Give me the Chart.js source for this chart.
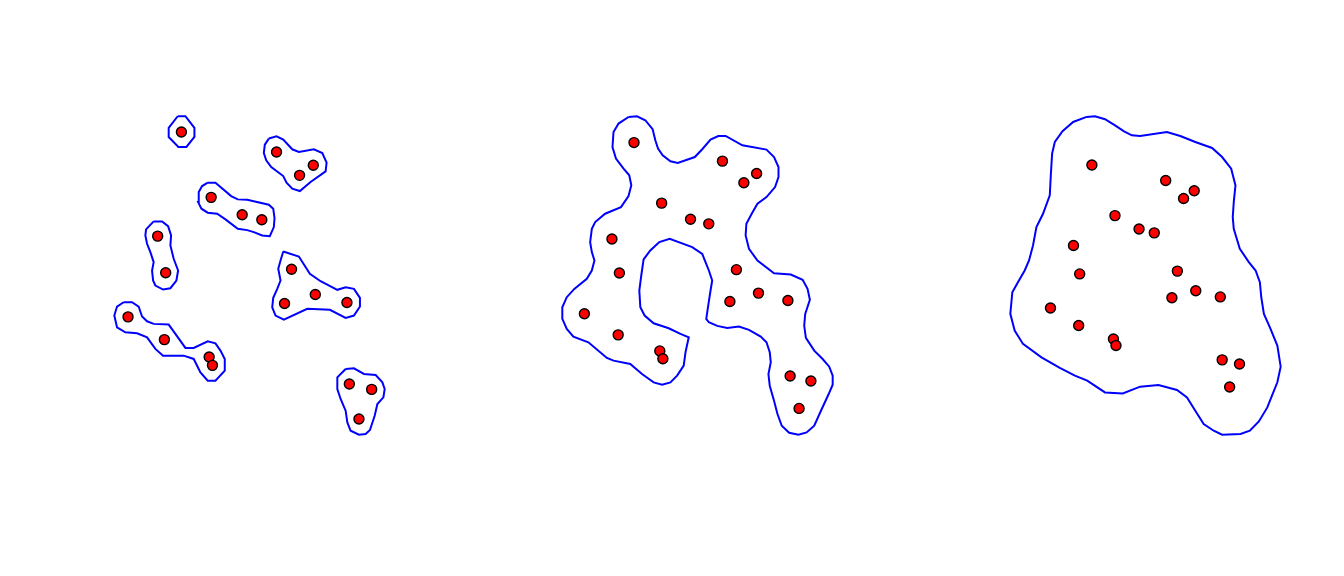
<!DOCTYPE html>
<html>
<head>
<meta charset="utf-8">
<script src="https://cdn.jsdelivr.net/npm/chart.js@4/dist/chart.umd.min.js"></script>
<style>
  html, body { margin: 0; padding: 0; background: #fff; }
  #wrap { display: flex; width: 1344px; height: 576px; }
  canvas { display: block; }
</style>
</head>
<body>
<div id="wrap">
  <canvas id="p1" width="448" height="576"></canvas>
  <canvas id="p2" width="448" height="576"></canvas>
  <canvas id="p3" width="448" height="576"></canvas>
</div>
<script>
// the 20 points (same in every panel)
const ptX = [181, 276, 312.7, 299, 210.7, 241.7, 261.3, 157.3, 165.3, 291,
             284, 314.7, 346.3, 127.7, 164, 208.7, 212, 348.7, 371, 358.3];
const ptY = [131.7, 151.7, 165, 175, 197, 214.3, 219.3, 235.7, 272.3, 268.7,
             303, 294, 302, 316.3, 339, 356.3, 364.7, 383.3, 388.7, 418.3];

// panel 1: small radius, hull splits into seven pieces
const hullA_x = [177.3, 185, 194, 194, 186, 178, 168.3, 168.3];
const hullA_y = [116, 116, 127.7, 136.7, 146.7, 146.7, 136.7, 127.7];
const hullB_x = [268.3, 276, 282.7, 291.7, 298.3, 313.3, 321.7, 326, 325, 310, 299.3, 291.7, 286, 282.7, 270.7, 265.7, 263.3, 264.3];
const hullB_y = [138.3, 136, 139.3, 149, 151.7, 149, 152.7, 162.3, 171, 181.7, 190.7, 188.3, 182.3, 175.7, 166.7, 160, 152.7, 144.3];
const hullC_x = [207.3, 215, 230.7, 237.3, 246.7, 268.3, 272.7, 274, 273.3, 269.3, 261.7, 253.3, 246.7, 237.3, 225, 216.7, 207.3, 201, 197.7, 198.3, 201.7];
const hullC_y = [182.3, 182.3, 195.7, 199, 199.3, 204.3, 208.3, 217.7, 226.7, 235.7, 235, 231.7, 229.7, 228.3, 219, 213.3, 212.3, 208.3, 201.7, 191.7, 185.7];
const hullD_x = [153.3, 161.7, 167.7, 170.7, 170, 173.3, 177.7, 176, 170, 162.7, 155, 152.7, 151.7, 153.3, 150, 146.7, 145, 145.7];
const hullD_y = [221, 221, 225.7, 235, 245, 258.3, 270, 280, 287.7, 289, 285, 280, 270, 261.7, 251.7, 243.3, 235, 229];
const hullE_x = [282.7, 298.3, 309.3, 320, 336.7, 345, 353.3, 359.3, 359.3, 353.3, 345, 329.3, 306.7, 283.3, 275, 271.7, 272.7, 276.7, 280, 277.7, 280];
const hullE_y = [251, 256, 273.3, 280.7, 289.3, 286.7, 288.3, 297.3, 306, 315, 317.3, 309.3, 308.3, 319, 315, 306.7, 297.3, 288.3, 280, 268.3, 260];
const hullF_x = [123.3, 131.7, 138.3, 141.7, 146.7, 153.3, 168.3, 175, 185, 193.3, 207.3, 215, 220, 224.3, 224.3, 215, 207.3, 200, 193.3, 183.3, 162.7, 155, 146.7, 136.7, 125, 116.7, 114, 116.7];
const hullF_y = [301.7, 301.7, 306, 316, 320.7, 323.3, 324, 333.3, 347.3, 347.3, 340.7, 342.7, 350, 358.3, 370, 380, 380, 371.7, 358.3, 355, 355, 348.3, 336.7, 332.7, 331.7, 326.7, 315, 306];
const hullG_x = [345, 353.3, 363.3, 375, 381.7, 384, 382.7, 376.7, 374, 369.3, 365, 358.3, 350, 346.7, 345, 340, 336.7, 336.7];
const hullG_y = [368.3, 367.7, 373.3, 374.3, 381.7, 388.3, 396.7, 403.3, 415, 429.3, 433.3, 434, 430, 421.7, 410, 398.3, 388.3, 376.7];

// panel 2: medium radius, one hull with a bay
const hull2_x = [175.1, 184.2, 193.1, 201.0, 203.9, 206.8, 211.8, 220.1, 228.0, 246.3, 254.3, 263.2, 271.5, 279.4, 297.4, 323.3, 331.4, 336.2, 336.2, 332.5,
                 323.3, 313.6, 307.4, 301.7, 300.9, 304.5, 313.6, 331.4, 349.4, 362.1, 367.4, 369.9, 364.9, 363.8, 365.6, 374.6, 383.6, 390.7, 394.4, 394.4,
                 390.1, 381.8, 374.6, 366.4, 357.7, 347.6, 339.7, 335.1, 331.4, 326.8, 325.4, 327.9, 326.8, 323.3, 317.1, 304.5, 293.7, 281.2, 270.4, 261.4,
                 258.6, 260.7, 263.2, 265.0, 261.4, 257.8, 254.3, 243.5, 219.3, 208.2, 198.5, 191.3, 188.8, 186.7, 187.8, 192.4, 202.1, 218.3, 230.9, 239.8,
                 236.3, 234.4, 227.3, 220.1, 211.2, 202.1, 189.6, 177.0, 159.0, 151.9, 132.0, 115.9, 108.8, 104.0, 104.0, 108.8, 116.9, 130.3, 135.7, 138.5,
                 135.7, 133.9, 135.7, 139.3, 150.0, 167.0, 175.1, 178.1, 175.9, 169.8, 161.6, 157.9, 159.0, 164.4];
const hull2_y = [104.1, 103.3, 107.6, 117.3, 129.2, 138.2, 145.4, 151.9, 153.7, 147.3, 138.9, 128.5, 124.6, 124.6, 134.6, 139.3, 147.3, 158.1, 168.9, 179.7,
                 190.5, 197.6, 208.4, 219.2, 231.8, 246.2, 258.8, 272.5, 273.9, 279.7, 289.4, 301.2, 316.4, 329.0, 342.3, 356.0, 365.0, 373.3, 383.0, 392.7,
                 402.8, 420.8, 437.0, 444.2, 446.7, 444.6, 437.0, 424.4, 410.0, 393.8, 381.2, 368.6, 357.8, 347.0, 340.9, 333.6, 330.1, 331.5, 329.3, 325.4,
                 321.8, 307.4, 291.2, 280.4, 269.6, 260.6, 251.6, 244.4, 235.4, 239.0, 248.0, 257.7, 275.0, 291.2, 309.2, 318.2, 326.5, 331.9, 338.0, 341.6,
                 357.8, 372.2, 383.0, 390.2, 392.7, 390.2, 381.2, 370.4, 366.8, 363.9, 347.0, 340.9, 332.6, 321.8, 309.2, 298.4, 289.4, 278.6, 269.6, 258.8,
                 249.8, 239.0, 224.6, 217.4, 208.4, 201.3, 189.4, 177.8, 167.0, 159.8, 149.0, 136.5, 120.3, 111.2];

// panel 3: large radius, one blob
const hull3_x = [174.2, 184.9, 197.9, 210.8, 222.4, 232.4, 243.1, 277.6, 294.8, 314.1, 335.7, 348.6, 360.3, 365.8, 363.6, 362.3, 363.6, 371.4, 383.0, 391.7,
                 397.2, 399.0, 402.4, 410.1, 419.7, 424.0, 419.7, 411.9, 406.8, 395.9, 384.3, 372.3, 348.6, 337.8, 324.9, 314.1, 303.4, 290.5, 266.7, 243.1,
                 220.7, 197.9, 175.0, 159.1, 139.7, 116.1, 92.3, 81.6, 76.0, 78.6, 85.8, 94.5, 100.1, 105.2, 109.6, 118.1, 126.8, 128.1, 129.8, 133.3,
                 143.2, 156.9];
const hull3_y = [69.6, 68.7, 72.6, 80.4, 88.1, 93.3, 94.2, 89.0, 94.2, 102.0, 109.7, 121.4, 136.4, 158.0, 179.6, 199.0, 214.0, 239.8, 257.1, 267.9,
                 283.0, 302.4, 323.9, 341.2, 364.9, 392.0, 412.3, 431.7, 444.7, 462.8, 474.8, 479.1, 480.0, 474.8, 466.1, 448.9, 431.7, 422.2, 415.7, 417.9,
                 426.6, 425.3, 410.1, 403.7, 393.7, 380.0, 362.7, 345.5, 323.9, 295.9, 283.0, 267.9, 255.0, 235.6, 211.9, 194.6, 170.9, 145.0, 117.0, 102.0,
                 88.1, 76.1];

function ring(xs, ys) {
  const d = xs.map((x, i) => ({ x: x, y: ys[i] }));
  d.push({ x: xs[0], y: ys[0] });
  return d;
}

function drawPanel(id, hulls) {
  const allX = hulls.flatMap(h => h[0]);
  const allY = hulls.flatMap(h => h[1]);
  const x0 = Math.min(...allX), x1 = Math.max(...allX);
  const y0 = Math.min(...allY), y1 = Math.max(...allY);
  const ex = (x1 - x0) * 0.04, ey = (y1 - y0) * 0.04;

  const datasets = [{
    data: ptX.map((x, i) => ({ x: x, y: ptY[i] })),
    showLine: false,
    pointRadius: 5,
    pointBackgroundColor: '#ff0000',
    pointBorderColor: '#000000',
    pointBorderWidth: 1.4
  }];
  hulls.forEach(h => {
    datasets.push({
      data: ring(h[0], h[1]),
      showLine: true,
      pointRadius: 0,
      borderColor: '#0000ff',
      borderWidth: 2,
      tension: 0,
      fill: false
    });
  });

  new Chart(document.getElementById(id), {
    type: 'scatter',
    data: { datasets: datasets },
    options: {
      responsive: false,
      animation: false,
      devicePixelRatio: 1,
      layout: { padding: { left: 103.5, right: 52.5, top: 103.5, bottom: 128.5 } },
      plugins: { legend: { display: false }, tooltip: { enabled: false } },
      scales: {
        x: { display: false, min: x0 - ex, max: x1 + ex },
        y: { display: false, reverse: true, min: y0 - ey, max: y1 + ey }
      }
    }
  });
}

drawPanel('p1', [[hullA_x, hullA_y], [hullB_x, hullB_y], [hullC_x, hullC_y], [hullD_x, hullD_y],
                 [hullE_x, hullE_y], [hullF_x, hullF_y], [hullG_x, hullG_y]]);
drawPanel('p2', [[hull2_x, hull2_y]]);
drawPanel('p3', [[hull3_x, hull3_y]]);
</script>
</body>
</html>
